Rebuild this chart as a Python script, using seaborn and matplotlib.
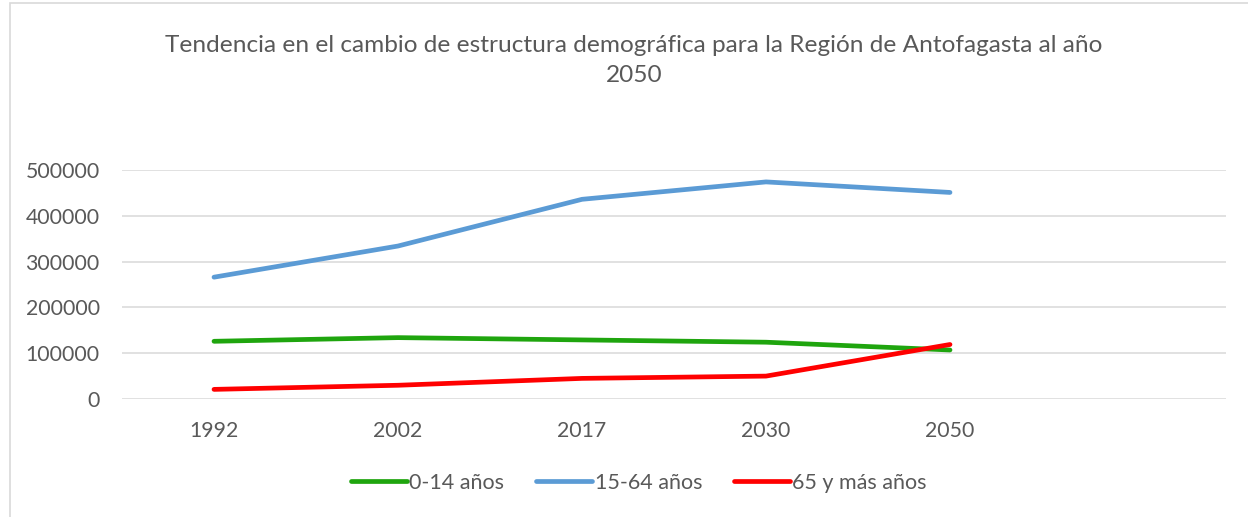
import matplotlib.pyplot as plt
import matplotlib.patches as mpatches
import seaborn as sns
import pandas as pd

years = ["1992", "2002", "2017", "2030", "2050"]
grupo_0_14 = [126000, 134000, 129000, 124000, 107000]
grupo_15_64 = [266000, 334000, 436000, 474000, 451000]
grupo_65 = [21000, 30000, 45000, 50000, 119000]
series_names = ["0-14 años", "15-64 años", "65 y más años"]
colors = ["#1FA50E", "#5B9BD5", "#FF0000"]

df = pd.DataFrame({
    "year": years * 3,
    "value": grupo_0_14 + grupo_15_64 + grupo_65,
    "serie": [series_names[0]] * 5 + [series_names[1]] * 5 + [series_names[2]] * 5,
})

sns.set_style("white")
plt.rcParams["font.family"] = ["Lato", "DejaVu Sans"]
TXT = "#595959"

fig = plt.figure(figsize=(12.48, 5.17), dpi=100)
fig.patch.set_facecolor("white")
ax = fig.add_axes([122 / 1248, 118 / 517, (1226 - 122) / 1248, (399 - 170) / 517])

sns.lineplot(data=df, x="year", y="value", hue="serie", palette=colors,
             linewidth=3.4, ax=ax, legend=False, sort=False,
             solid_capstyle="round", solid_joinstyle="round")

ax.set_xlim(-0.5, 5.5)
ax.set_ylim(0, 500000)
ax.set_yticks(range(0, 500001, 100000))
ax.set_yticklabels([str(v) for v in range(0, 500001, 100000)])
ax.yaxis.grid(True, color="#D9D9D9", linewidth=1.1)
ax.xaxis.grid(False)
for s in ["top", "right", "left", "bottom"]:
    ax.spines[s].set_visible(False)
ax.tick_params(axis="both", length=0, labelsize=15.3, labelcolor=TXT)
ax.tick_params(axis="y", pad=16)
ax.tick_params(axis="x", pad=16)
ax.set_xlabel("")
ax.set_ylabel("")

fig.text(0.508, 1 - 45 / 517, "Tendencia en el cambio de estructura demográfica para la Región de Antofagasta al año",
         ha="center", va="center", fontsize=17.6, color=TXT)
fig.text(0.508, 1 - 75 / 517, "2050", ha="center", va="center", fontsize=17.6, color=TXT)

handles = [plt.Line2D([], [], color=c, linewidth=3.4, solid_capstyle="round") for c in colors]
fig.legend(handles, series_names, loc="center", bbox_to_anchor=(0.512, 1 - 483 / 517),
           ncol=3, frameon=False, fontsize=15.5, labelcolor=TXT, handlelength=2.6,
           handletextpad=0.1, columnspacing=1.5)

fig.patches.append(mpatches.Rectangle((10 / 1248, -0.01), 1.1, 1 - 3 / 517 + 0.01,
                                      transform=fig.transFigure, fill=False,
                                      edgecolor="#D9D9D9", linewidth=1.2))

fig.savefig("out.png", dpi=100)
